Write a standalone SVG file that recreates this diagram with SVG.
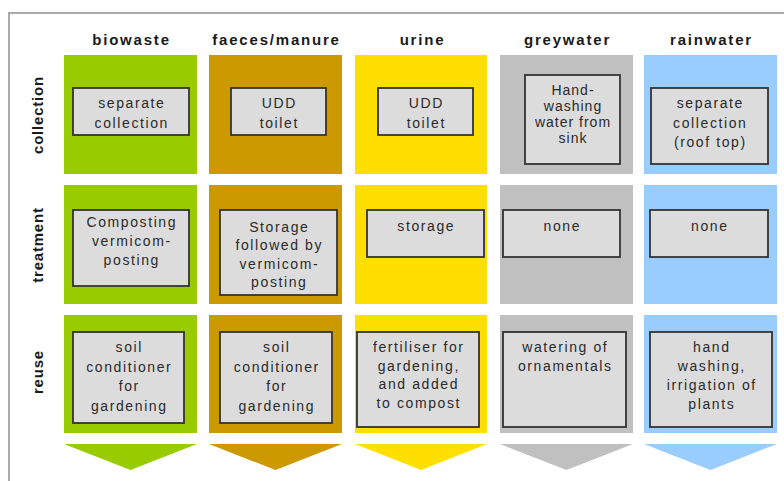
<svg xmlns="http://www.w3.org/2000/svg" width="784" height="481" viewBox="0 0 784 481">
<style>
.hd{font-family:"Liberation Sans",Arial,sans-serif;font-weight:bold;font-size:15px;letter-spacing:1.8px;fill:#1a1a1a;text-anchor:middle}
.rl{font-family:"Liberation Sans",Arial,sans-serif;font-weight:bold;font-size:15px;letter-spacing:0.8px;fill:#1a1a1a;text-anchor:middle}
.bx{fill:#dcdcdc;stroke:#333;stroke-width:1.8}
.t{font-family:"Liberation Sans",Arial,sans-serif;font-size:14px;letter-spacing:1.6px;fill:#2a2a2a;text-anchor:middle}
.tn{letter-spacing:1px}
.bio{fill:#99cc00}.fae{fill:#cc9900}.uri{fill:#ffdf00}.gre{fill:#c0c0c0}.rai{fill:#99ccff}
</style>
<rect width="784" height="481" fill="#fff"/>
<path d="M9,481 V13 H784" fill="none" stroke="#aaa" stroke-width="2"/>
<g id="headers">
<text class="hd" x="131.5" y="45">biowaste</text>
<text class="hd" x="276.5" y="45">faeces/manure</text>
<text class="hd" x="422.5" y="45">urine</text>
<text class="hd" x="567.5" y="45">greywater</text>
<text class="hd" x="711.5" y="45">rainwater</text>
</g>
<g id="rowlabels">
<text class="rl" transform="translate(43,115) rotate(-90)">collection</text>
<text class="rl" transform="translate(43,245) rotate(-90)">treatment</text>
<text class="rl" transform="translate(43,372) rotate(-90)">reuse</text>
</g>
<g id="columns">
<rect class="bio" x="64" y="55" width="133" height="119"/>
<rect class="bio" x="64" y="185" width="133" height="119"/>
<rect class="bio" x="64" y="315" width="133" height="118"/>
<rect class="fae" x="209" y="55" width="133" height="119"/>
<rect class="fae" x="209" y="185" width="133" height="119"/>
<rect class="fae" x="209" y="315" width="133" height="118"/>
<rect class="uri" x="355" y="55" width="132" height="119"/>
<rect class="uri" x="355" y="185" width="132" height="119"/>
<rect class="uri" x="355" y="315" width="132" height="118"/>
<rect class="gre" x="500" y="55" width="133" height="119"/>
<rect class="gre" x="500" y="185" width="133" height="119"/>
<rect class="gre" x="500" y="315" width="133" height="118"/>
<rect class="rai" x="644" y="55" width="133" height="119"/>
<rect class="rai" x="644" y="185" width="133" height="119"/>
<rect class="rai" x="644" y="315" width="133" height="118"/>
</g>
<g id="arrows">
<polygon class="bio" points="64,444 197,444 130.5,470"/>
<polygon class="fae" points="209,444 342,444 275.5,470"/>
<polygon class="uri" points="355,444 487,444 421,470"/>
<polygon class="gre" points="500,444 633,444 566.5,470"/>
<polygon class="rai" points="644,444 777,444 710.5,470"/>
</g>
<g id="bio-collection"><rect class="bx" x="73" y="88" width="116" height="47"/>
<text class="t" x="131.8" y="108">separate</text><text class="t" x="131.8" y="128">collection</text></g>
<g id="fae-collection"><rect class="bx" x="231" y="88" width="95" height="47"/>
<text class="t" x="279.3" y="108">UDD</text><text class="t" x="279.3" y="128">toilet</text></g>
<g id="uri-collection"><rect class="bx" x="378" y="88" width="95" height="47"/>
<text class="t" x="426.3" y="108">UDD</text><text class="t" x="426.3" y="128">toilet</text></g>
<g id="gre-collection"><rect class="bx" x="525" y="75" width="95" height="89"/>
<text class="t tn" x="573" y="95">Hand-</text><text class="t tn" x="573" y="111">washing</text><text class="t tn" x="573" y="127">water from</text><text class="t tn" x="573" y="143">sink</text></g>
<g id="rai-collection"><rect class="bx" x="651" y="88" width="117" height="76"/>
<text class="t" x="710.3" y="108">separate</text><text class="t" x="710.3" y="128">collection</text><text class="t" x="710.3" y="147">(roof top)</text></g>
<g id="bio-treatment"><rect class="bx" x="73" y="210" width="116" height="76"/>
<text class="t" x="131.8" y="227">Composting</text><text class="t" x="131.8" y="246">vermicom-</text><text class="t" x="131.8" y="265">posting</text></g>
<g id="fae-treatment"><rect class="bx" x="220" y="210" width="117" height="85"/>
<text class="t" x="279.3" y="232">Storage</text><text class="t" x="279.3" y="250">followed by</text><text class="t" x="279.3" y="269">vermicom-</text><text class="t" x="279.3" y="287">posting</text></g>
<g id="uri-treatment"><rect class="bx" x="367" y="210" width="117" height="47"/>
<text class="t" x="426.3" y="231">storage</text></g>
<g id="gre-treatment"><rect class="bx" x="503" y="210" width="117" height="47"/>
<text class="t" x="562.3" y="231">none</text></g>
<g id="rai-treatment"><rect class="bx" x="650" y="210" width="118" height="47"/>
<text class="t" x="709.8" y="231">none</text></g>
<g id="bio-reuse"><rect class="bx" x="73" y="332" width="111" height="91"/>
<text class="t" x="129.3" y="352">soil</text><text class="t" x="129.3" y="372">conditioner</text><text class="t" x="129.3" y="391">for</text><text class="t" x="129.3" y="411">gardening</text></g>
<g id="fae-reuse"><rect class="bx" x="220" y="332" width="112" height="91"/>
<text class="t" x="276.8" y="352">soil</text><text class="t" x="276.8" y="372">conditioner</text><text class="t" x="276.8" y="391">for</text><text class="t" x="276.8" y="411">gardening</text></g>
<g id="uri-reuse"><rect class="bx" x="357" y="332" width="122" height="95"/>
<text class="t" x="418.8" y="352">fertiliser for</text><text class="t" x="418.8" y="371">gardening,</text><text class="t" x="418.8" y="389">and added</text><text class="t" x="418.8" y="408">to compost</text></g>
<g id="gre-reuse"><rect class="bx" x="503" y="332" width="123" height="95"/>
<text class="t" x="565.3" y="352">watering of</text><text class="t" x="565.3" y="371">ornamentals</text></g>
<g id="rai-reuse"><rect class="bx" x="650" y="332" width="122" height="95"/>
<text class="t" x="711.8" y="352">hand</text><text class="t" x="711.8" y="371">washing,</text><text class="t" x="711.8" y="390">irrigation of</text><text class="t" x="711.8" y="409">plants</text></g>
</svg>
